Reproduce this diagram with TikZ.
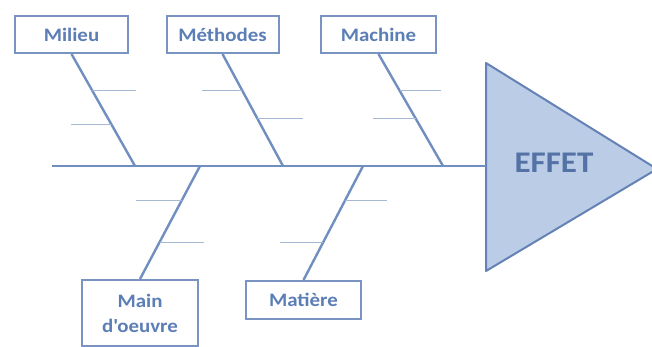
\documentclass[tikz,border=0pt]{standalone}
\usepackage{fontspec}
\newfontfamily\lblfont{Carlito}[FakeStretch=1.1]
\usetikzlibrary{calc}
\definecolor{bonec}{RGB}{112,143,192}
\definecolor{subc}{RGB}{165,184,212}
\definecolor{boxc}{RGB}{122,148,194}
\definecolor{txtc}{RGB}{92,126,182}
\definecolor{trifill}{RGB}{187,205,230}
\definecolor{tridraw}{RGB}{100,130,182}
\definecolor{effetc}{RGB}{84,114,165}
\begin{document}
\begin{tikzpicture}[x=1pt,y=-1pt,
  causebox/.style={draw=boxc,line width=2pt,fill=white,inner sep=0pt,
    minimum height=37pt,text=txtc,align=center,
    font=\lblfont\bfseries\fontsize{19}{25}\selectfont},
  bone/.style={draw=bonec,line width=2.4pt},
  twig/.style={draw=subc,line width=1.1pt}]
\useasboundingbox (0,0) rectangle (652,347);
\fill[white] (0,0) rectangle (652,347);
% effect triangle
\coordinate (tw) at (486,166);
\filldraw[fill=trifill,draw=tridraw,line width=2pt,line join=round]
  (486,63) -- (657,169) -- (486,271) -- cycle;
\node[text=effetc,font=\lblfont\bfseries\fontsize{30}{30}\selectfont,inner sep=0pt] (effet) at (554,163) {EFFET};
% cause boxes
\node[causebox,minimum width=113pt] (milieu) at (71.5,34.5) {Milieu};
\node[causebox,minimum width=112pt] (methodes) at (222.5,34.5) {Méthodes};
\node[causebox,minimum width=115pt] (machine) at (378.5,34.5) {Machine};
\node[causebox,minimum width=116pt,minimum height=66pt] (main) at (140,313) {Main\\d'oeuvre};
\node[causebox,minimum width=115pt,minimum height=38pt] (matiere) at (303.5,300) {Matière};
% spine
\coordinate (sl) at (52,166);
\coordinate (j1) at (135,166);
\coordinate (j2) at (283,166);
\coordinate (j3) at (443,166);
\coordinate (j4) at (200,166);
\coordinate (j5) at (363,166);
\draw[bone] (sl) -- (tw);
% bones
\draw[bone] (milieu.south) -- (j1);
\draw[bone] (methodes.south) -- (j2);
\draw[bone] (machine.south) -- (j3);
\draw[bone] (main.north) -- (j4);
\draw[bone] (matiere.north) -- (j5);
% twigs
\draw[twig] ($(milieu.south)!0.327!(j1)$) -- ++(44,0);
\draw[twig] ($(milieu.south)!0.628!(j1)$) -- ++(-40,0);
\draw[twig] ($(methodes.south)!0.327!(j2)$) -- ++(-40,0);
\draw[twig] ($(methodes.south)!0.575!(j2)$) -- ++(46,0);
\draw[twig] ($(machine.south)!0.327!(j3)$) -- ++(41,0);
\draw[twig] ($(machine.south)!0.575!(j3)$) -- ++(-43,0);
\draw[twig] ($(j4)!0.307!(main.north)$) -- ++(-46,0);
\draw[twig] ($(j4)!0.675!(main.north)$) -- ++(44,0);
\draw[twig] ($(j5)!0.304!(matiere.north)$) -- ++(42,0);
\draw[twig] ($(j5)!0.67!(matiere.north)$) -- ++(-43,0);
\end{tikzpicture}
\end{document}
